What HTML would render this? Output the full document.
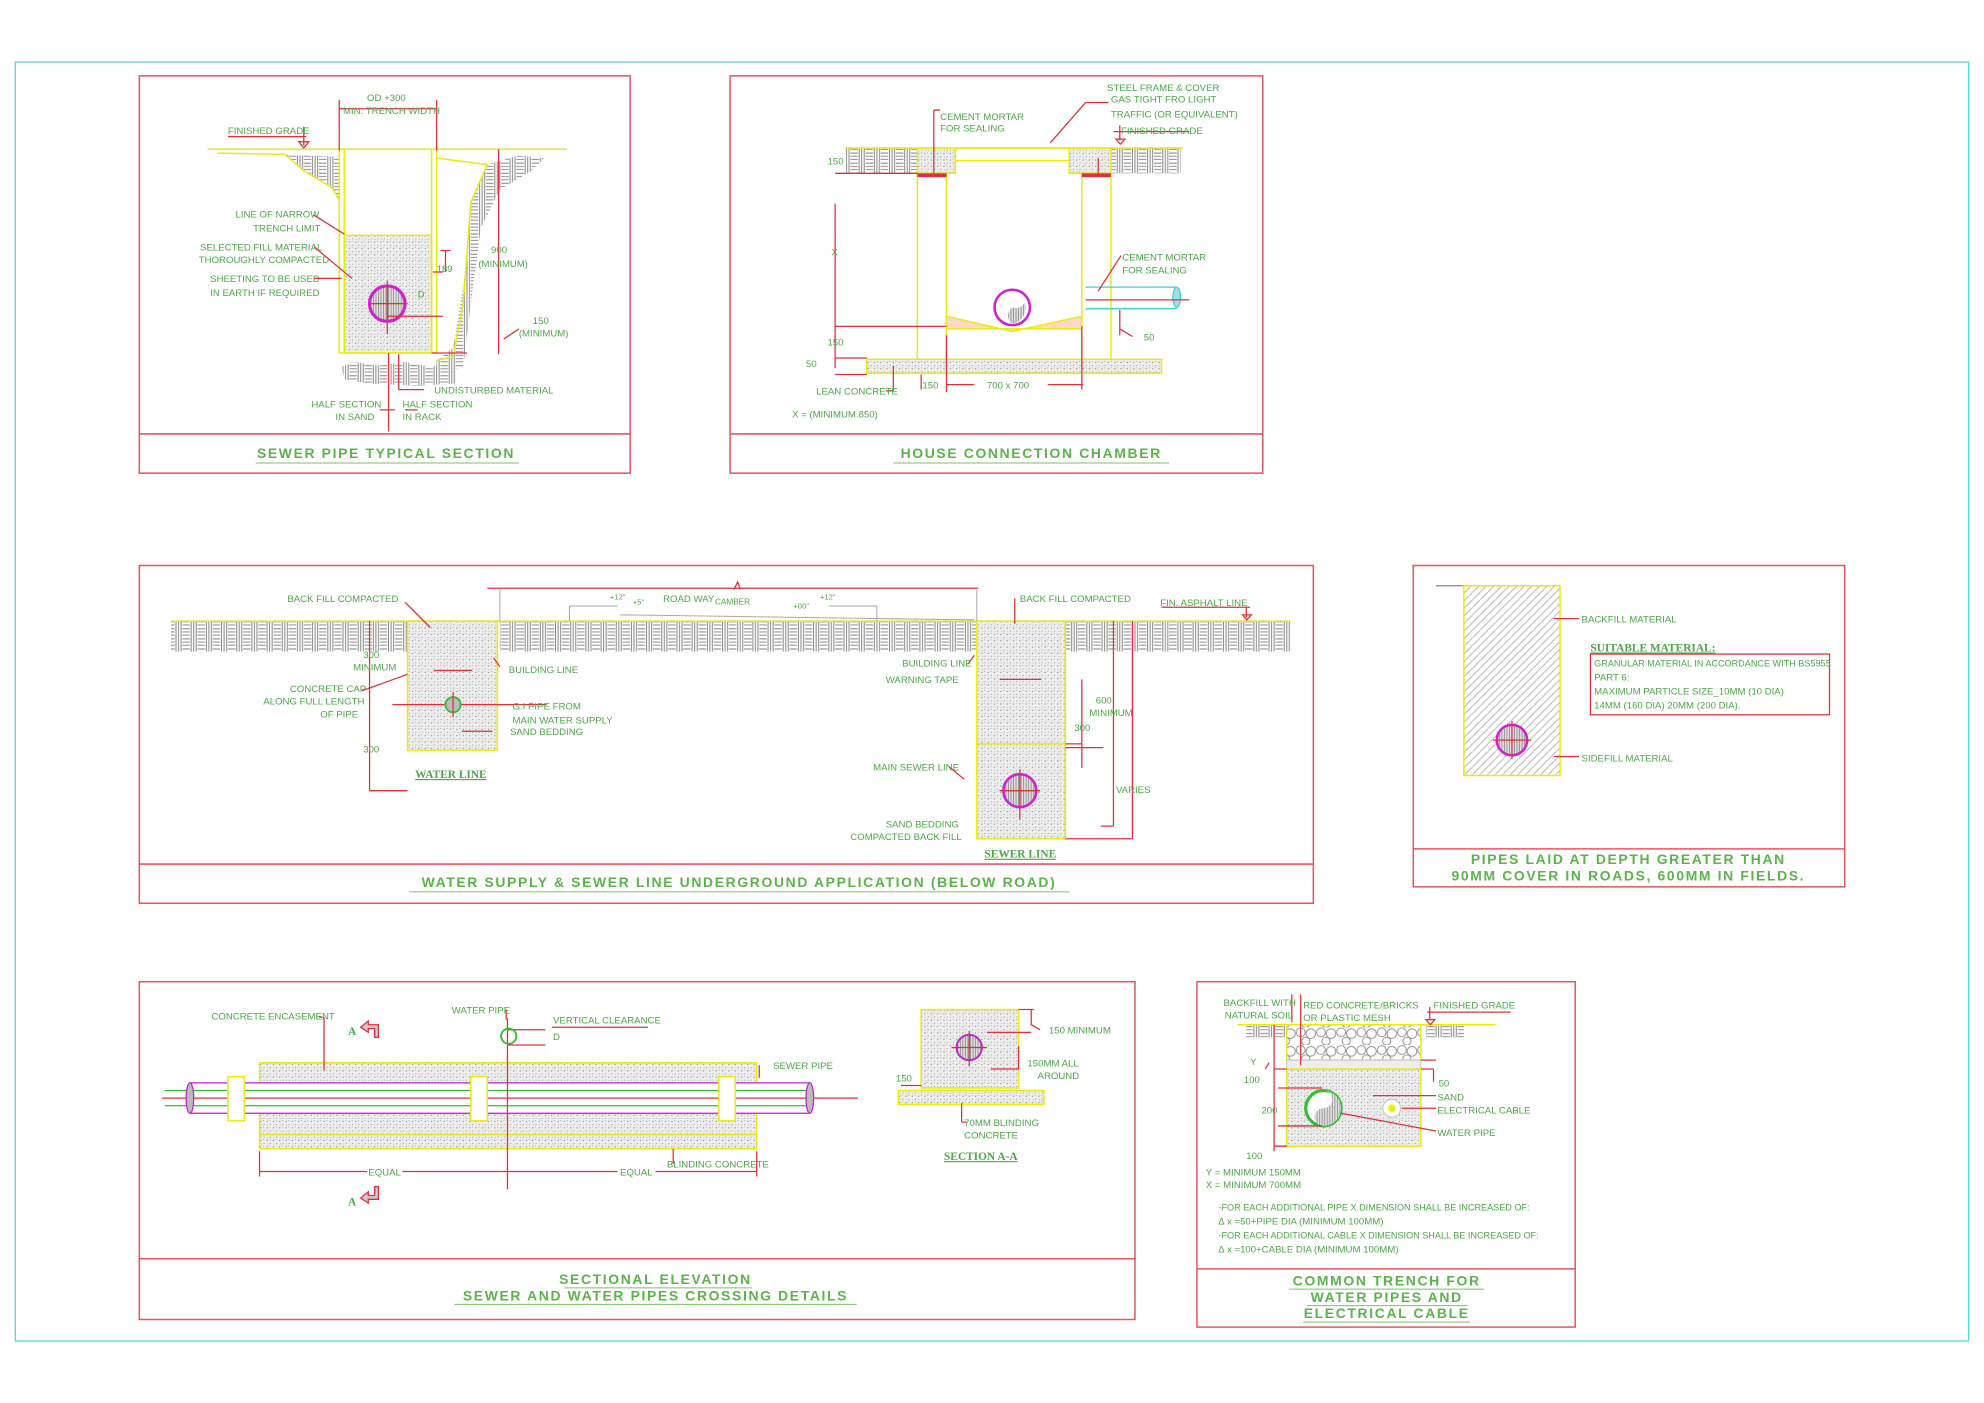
<!DOCTYPE html>
<html><head><meta charset="utf-8"><style>
html,body{margin:0;padding:0;background:#fff;width:1984px;height:1403px;overflow:hidden}
svg{display:block}
text{font-family:"Liberation Sans Narrow","Liberation Sans",sans-serif;fill:#4fa64a;font-size:7.6px}
.t{font-family:"Liberation Sans",sans-serif;font-size:11px;font-weight:bold;letter-spacing:1.3px;fill:#5cb34c;text-anchor:middle}
.s{font-family:"Liberation Serif",serif;font-weight:bold;font-size:9px;fill:#4fa64a;text-decoration:underline}
.r{stroke:#e0303a;fill:none;stroke-width:1}
.y{stroke:#eaea10;fill:none;stroke-width:1.2}
.b{stroke:#e85560;fill:none;stroke-width:1.2}
.u{stroke:#7cc06a;stroke-width:0.8}
</style></head><body>
<svg width="1984" height="1403" viewBox="0 0 1568 1109" xmlns="http://www.w3.org/2000/svg">
<defs>
<pattern id="brk" width="12" height="8" patternUnits="userSpaceOnUse">
<rect width="12" height="8" fill="#fff"/>
<path d="M0 1h6M0 3.5h6M0 6h6M7 0v8M9 0v8M11 0v8" stroke="#8a8a8a" stroke-width="0.8" fill="none"/>
</pattern>
<pattern id="dot" width="5" height="5" patternUnits="userSpaceOnUse">
<rect width="5" height="5" fill="#eeeeee"/>
<circle cx="1" cy="1.5" r="0.5" fill="#888"/><circle cx="3.6" cy="3.8" r="0.45" fill="#999"/><circle cx="3.2" cy="0.8" r="0.35" fill="#777"/><circle cx="1.4" cy="4.2" r="0.35" fill="#999"/>
</pattern>
<pattern id="hat" width="6" height="6" patternUnits="userSpaceOnUse">
<rect width="6" height="6" fill="#fff"/><path d="M0 6L6 0" stroke="#aaa" stroke-width="0.7"/>
</pattern>
<pattern id="pbl" width="16" height="14" patternUnits="userSpaceOnUse">
<rect width="16" height="14" fill="#fff"/>
<circle cx="4" cy="4" r="3.5" fill="none" stroke="#888" stroke-width="0.7"/><circle cx="12" cy="5" r="3.8" fill="none" stroke="#888" stroke-width="0.7"/><circle cx="8" cy="11" r="3.2" fill="none" stroke="#888" stroke-width="0.7"/>
</pattern>
<pattern id="vh" width="2" height="4" patternUnits="userSpaceOnUse"><rect width="2" height="4" fill="#ddd"/><path d="M1 0v4" stroke="#777" stroke-width="0.5"/></pattern>
</defs>

<rect x="12" y="49" width="1544" height="1011" fill="none" stroke="#55d8d8" stroke-width="1"/>

<!-- PANEL 1 -->
<rect x="110" y="60" width="388" height="314" class="b"/>
<line x1="110" y1="343" x2="498" y2="343" class="b"/>
<text class="t" x="305" y="362">SEWER PIPE TYPICAL SECTION</text>
<line x1="202" y1="366" x2="410" y2="366" class="u"/>
<path d="M190 121 L225 122 L240 135 L262 148 L268 158 L268 124 Z" fill="url(#brk)"/>
<path d="M345 285 L358 275 L363 245 L370 200 L372 160 L385 130 L410 123 L430 125 L420 135 L395 150 L380 180 L372 240 L366 290 L345 295 Z" fill="url(#brk)"/>
<path d="M270 290 L280 286 L300 289 L320 286 L340 290 L360 287 L360 303 L330 305 L290 303 L272 300 Z" fill="url(#brk)"/>
<path d="M172 121 L225 122 L240 135 L262 148 L268 158" class="y"/>
<path d="M345 125 L385 130 L372 160 L366 240 L358 282 L345 285" class="y"/>
<line x1="164" y1="118" x2="448" y2="118" class="y"/>
<rect x="272" y="186" width="69" height="93" style="fill:url(#dot)" class="y"/>
<rect x="268" y="118" width="77" height="161" class="y"/>
<line x1="272" y1="118" x2="272" y2="279" class="y"/>
<line x1="341" y1="118" x2="341" y2="279" class="y"/>
<circle cx="306" cy="240" r="14" fill="url(#vh)" stroke="#d020d0" stroke-width="2.5"/>
<path d="M292 240h30M306 222v42M306 250h44M341 279h28M352 198v17M348 198h8M350 215h-8" class="r"/>
<path d="M268 79v40M345 79v40M268 86h77M180 108h62M240 100v15M394 118v162M398 268l12-8M315 280v28M315 308h20M312 324h-12M320 324h10M307 279v62" class="r"/>
<path d="M236 112h8l-4 5z" class="r"/>
<text x="290" y="80">OD +300</text><text x="271" y="90">MIN. TRENCH WIDTH</text>
<text x="180" y="106">FINISHED GRADE</text>
<text x="186" y="172">LINE OF NARROW</text><text x="200" y="183">TRENCH LIMIT</text>
<text x="158" y="198">SELECTED FILL MATERIAL</text><text x="157" y="208">THOROUGHLY COMPACTED</text>
<text x="166" y="223">SHEETING TO BE USED</text><text x="166" y="234">IN EARTH IF REQUIRED</text>
<path d="M248 170l24 15M248 195l30 25M248 220h22" class="r"/>
<text x="330" y="235">D</text><text x="345" y="215">189</text>
<text x="388" y="200">900</text><text x="378" y="211">(MINIMUM)</text>
<text x="421" y="256">150</text><text x="410" y="266">(MINIMUM)</text>
<text x="343" y="311">UNDISTURBED MATERIAL</text>
<text x="246" y="322">HALF SECTION</text><text x="265" y="332">IN SAND</text>
<text x="318" y="322">HALF SECTION</text><text x="318" y="332">IN RACK</text>

<!-- PANEL 2 -->
<rect x="577" y="60" width="421" height="314" class="b"/>
<line x1="577" y1="343" x2="998" y2="343" class="b"/>
<text class="t" x="815" y="362">HOUSE CONNECTION CHAMBER</text>
<line x1="706" y1="366" x2="924" y2="366" class="u"/>
<rect x="668" y="117" width="58" height="20" fill="url(#brk)"/>
<rect x="878" y="117" width="55" height="20" fill="url(#brk)"/>
<path d="M725 117h30v20h-30z M845 117h33v20h-33z" style="fill:url(#dot)" class="y"/>
<path d="M755 117h90v10h-90z" class="y"/>
<line x1="668" y1="117" x2="935" y2="117" class="y"/>
<rect x="725" y="137" width="23" height="147" class="y"/>
<rect x="855" y="137" width="23" height="147" class="y"/>
<rect x="725" y="137" width="23" height="3" fill="#e0303a"/>
<rect x="855" y="137" width="23" height="3" fill="#e0303a"/>
<rect x="685" y="284" width="233" height="11" style="fill:url(#dot)" class="y"/>
<path d="M748 250 L800 262 L855 250 L855 260 L748 260 Z" style="fill:#fbd9c8" class="y"/>
<circle cx="800" cy="243" r="14" fill="none" stroke="#d020d0" stroke-width="2"/>
<path d="M800 256 a8 8 0 0 1 0-13 a8 8 0 0 0 10 -4 a13 13 0 0 1 -10 17z" fill="url(#vh)"/>
<path d="M858 227h72M858 244h72" stroke="#40d0d0" fill="none"/>
<ellipse cx="930" cy="235" rx="3" ry="8" fill="#a0e0e0" stroke="#40d0d0"/>
<path d="M858 237h82" class="r"/>
<path d="M660 137h65M660 161v130M660 258h88M660 283h25M660 296h25M728 296v12M855 258v50M748 265v45M748 304h22M828 304h28M885 245v20M885 260l10 6M830 113l28-32M858 81h18M738 137v-50M738 87h5M868 137v-12M868 230l18-28M706 289v20M700 309h6M880 104h60M885 99v12" class="r"/>
<path d="M882 110h7l-3.5 4z" class="r"/>
<text x="875" y="72">STEEL FRAME &amp; COVER</text><text x="878" y="81">GAS TIGHT FRO LIGHT</text><text x="878" y="93">TRAFFIC (OR EQUIVALENT)</text>
<text x="886" y="106">FINISHED GRADE</text>
<text x="743" y="95">CEMENT MORTAR</text><text x="743" y="104">FOR SEALING</text>
<text x="887" y="206">CEMENT MORTAR</text><text x="887" y="216">FOR SEALING</text>
<text x="904" y="269">50</text>
<text x="654" y="130">150</text><text x="657" y="202">X</text><text x="654" y="273">150</text><text x="637" y="290">50</text>
<text x="645" y="312">LEAN CONCRETE</text><text x="729" y="307">150</text><text x="780" y="307">700 x 700</text>
<text x="626" y="330">X = (MINIMUM.850)</text>

<!-- PANEL 3 -->
<rect x="110" y="447" width="928" height="267" class="b"/>
<line x1="110" y1="683" x2="1038" y2="683" class="b"/>
<text class="t" x="584" y="701">WATER SUPPLY &amp; SEWER LINE UNDERGROUND APPLICATION (BELOW ROAD)</text>
<line x1="323" y1="705" x2="845" y2="705" class="u"/>
<rect x="135" y="491" width="187" height="24" fill="url(#brk)"/>
<rect x="395" y="491" width="377" height="24" fill="url(#brk)"/>
<rect x="842" y="491" width="178" height="24" fill="url(#brk)"/>
<line x1="135" y1="491" x2="1020" y2="491" class="y"/>
<rect x="322" y="491" width="71" height="102" style="fill:url(#dot)" class="y"/>
<rect x="772" y="491" width="70" height="172" style="fill:url(#dot)" class="y"/>
<line x1="772" y1="588" x2="842" y2="588" class="y"/>
<path d="M395 466v25M772 466v25M450 491v-12h38M655 479h38v12M490 486l280 4" stroke="#aaa" fill="none" stroke-width="0.8"/>
<path d="M385 465h388M580 466l3-6 2 6" class="r"/>
<path d="M343 530h30M790 537h33M292 491v134M292 625h30M310 557h70M380 557h52M365 578h24M395 527l-5-7M320 476l20 20M322 533l-36 13M855 537v70M855 588h-13M880 491v162M895 491v172M880 653h-10M895 663h-53M750 606l12 10M842 591h30M770 518l-5 7M802 473v20" class="r"/>
<circle cx="358" cy="557" r="6" fill="#bbb" stroke="#30c030" stroke-width="1.5"/>
<line x1="358" y1="547" x2="358" y2="567" class="r"/>
<circle cx="806" cy="625" r="13" fill="url(#vh)" stroke="#d020d0" stroke-width="2"/>
<path d="M790 625h32M806 608v40" class="r"/>
<path d="M918 480h70M985 480v8M982 486h7l-3.5 4z" class="r"/>
<text x="227" y="476">BACK FILL COMPACTED</text><text x="806" y="476">BACK FILL COMPACTED</text>
<text x="917" y="479">FIN. ASPHALT LINE</text>
<text x="482" y="474" style="font-size:6px">+12"</text><text x="500" y="478" style="font-size:6px">+5"</text><text x="524" y="476">ROAD WAY</text><text x="565" y="478" style="font-size:6.5px">CAMBER</text><text x="627" y="481" style="font-size:6px">+00"</text><text x="648" y="474" style="font-size:6px">+12"</text>
<text x="287" y="520">300</text><text x="279" y="530">MINIMUM</text>
<text x="229" y="547">CONCRETE CAP</text><text x="208" y="557">ALONG FULL LENGTH</text><text x="253" y="567">OF PIPE</text>
<text x="287" y="595">300</text>
<text x="402" y="532">BUILDING LINE</text>
<text x="405" y="561">G.I PIPE FROM</text><text x="405" y="572">MAIN WATER SUPPLY</text><text x="403" y="581">SAND BEDDING</text>
<text class="s" x="328" y="615">WATER LINE</text>
<text x="713" y="527">BUILDING LINE</text><text x="700" y="540">WARNING TAPE</text>
<text x="866" y="556">600</text><text x="861" y="566">MINIMUM</text><text x="849" y="578">300</text>
<text x="690" y="609">MAIN SEWER LINE</text><text x="882" y="627">VARIES</text>
<text x="700" y="654">SAND BEDDING</text><text x="672" y="664">COMPACTED BACK FILL</text>
<text class="s" x="778" y="678">SEWER LINE</text>

<!-- PANEL 4 -->
<rect x="1117" y="447" width="341" height="254" class="b"/>
<line x1="1117" y1="671" x2="1458" y2="671" class="b"/>
<text class="t" x="1287" y="683">PIPES LAID AT DEPTH GREATER THAN</text>
<text class="t" x="1287" y="696">90MM COVER IN ROADS, 600MM IN FIELDS.</text>
<line x1="1135" y1="463" x2="1157" y2="463" stroke="#888"/>
<rect x="1157" y="463" width="76" height="150" style="fill:url(#hat)" class="y"/>
<circle cx="1195" cy="585" r="12" fill="url(#vh)" stroke="#d020d0" stroke-width="2"/>
<path d="M1180 585h30M1195 570v30M1228 489h20M1228 598h20" class="r"/>
<rect x="1257" y="517" width="189" height="48" class="r"/>
<text x="1250" y="492">BACKFILL MATERIAL</text>
<text class="s" x="1257" y="515">SUITABLE MATERIAL:</text>
<text x="1260" y="527" style="font-size:7.2px">GRANULAR MATERIAL IN ACCORDANCE WITH BS5955</text>
<text x="1260" y="538">PART 6:</text>
<text x="1260" y="549">MAXIMUM PARTICLE SIZE_10MM (10 DIA)</text>
<text x="1260" y="560">14MM (160 DIA) 20MM (200 DIA).</text>
<text x="1250" y="602">SIDEFILL MATERIAL</text>

<!-- PANEL 5 -->
<rect x="110" y="776" width="787" height="267" class="b"/>
<line x1="110" y1="995" x2="897" y2="995" class="b"/>
<text class="t" x="518" y="1015">SECTIONAL ELEVATION</text>
<text class="t" x="518" y="1028">SEWER AND WATER PIPES CROSSING DETAILS</text>
<line x1="446" y1="1018" x2="594" y2="1018" class="u"/><line x1="359" y1="1031" x2="677" y2="1031" class="u"/>
<rect x="205" y="840" width="393" height="68" style="fill:url(#dot)" class="y"/>
<line x1="205" y1="897" x2="598" y2="897" class="y"/>
<rect x="150" y="856" width="490" height="24" fill="#fff"/>
<path d="M150 856h490M150 880h490" stroke="#c020d0" fill="none"/>
<path d="M130 862h512M130 874h512" stroke="#30c030" fill="none"/>
<line x1="128" y1="868" x2="678" y2="868" class="r"/>
<ellipse cx="150" cy="868" rx="3" ry="12" fill="#bbb" stroke="#c020d0"/><ellipse cx="640" cy="868" rx="3" ry="12" fill="#bbb" stroke="#c020d0"/>
<rect x="180" y="851" width="13" height="35" style="fill:#fff" class="y"/><rect x="372" y="851" width="13" height="35" style="fill:#fff" class="y"/><rect x="568" y="851" width="13" height="35" style="fill:#fff" class="y"/>
<path d="M401 805v135M401 814h30M401 826h30M436 812h76M205 910v20M598 910v20M205 926h85M318 926h85M403 926h85M518 926h80M256 804v42M252 804h3M400 798v8M532 908v12M600 842v10" class="r"/>
<circle cx="402" cy="819" r="6" fill="none" stroke="#30c030" stroke-width="1.5"/>
<path d="M285 812l6-5v3h8v10h-3v-7h-5v3z" fill="#ccc" stroke="#e0303a"/>
<path d="M285 947l6-5v3h5v-7h3v10h-8v3z" fill="#ccc" stroke="#e0303a"/>
<text x="275" y="818" class="s" style="text-decoration:none">A</text><text x="275" y="953" class="s" style="text-decoration:none">A</text>
<text x="167" y="806">CONCRETE ENCASEMENT</text><text x="357" y="801">WATER PIPE</text><text x="437" y="809">VERTICAL CLEARANCE</text><text x="437" y="822">D</text>
<text x="611" y="845">SEWER PIPE</text><text x="527" y="923">BLINDING CONCRETE</text>
<text x="291" y="929">EQUAL</text><text x="490" y="929">EQUAL</text>
<rect x="728" y="798" width="77" height="62" style="fill:url(#dot)" class="y"/>
<rect x="710" y="862" width="115" height="11" style="fill:url(#dot)" class="y"/>
<circle cx="766" cy="828" r="10" fill="url(#vh)" stroke="#c020d0" stroke-width="1.5"/>
<path d="M752 828h28M766 815v28M805 798h12M815 798v12l7 4M780 816h35M783 845h22M805 845v-18M712 858h16M760 872v15M760 887h4" class="r"/>
<text x="829" y="817">150 MINIMUM</text><text x="812" y="843">150MM ALL</text><text x="820" y="853">AROUND</text>
<text x="708" y="855">150</text><text x="762" y="890">70MM BLINDING</text><text x="762" y="900">CONCRETE</text>
<text class="s" x="746" y="917">SECTION A-A</text>

<!-- PANEL 6 -->
<rect x="946" y="776" width="299" height="273" class="b"/>
<line x1="946" y1="1003" x2="1245" y2="1003" class="b"/>
<text class="t" x="1096" y="1016">COMMON TRENCH FOR</text><text class="t" x="1096" y="1029">WATER PIPES AND</text><text class="t" x="1096" y="1042">ELECTRICAL CABLE</text>
<line x1="1019" y1="1019" x2="1173" y2="1019" class="u"/><line x1="1033" y1="1032" x2="1160" y2="1032" class="u"/><line x1="1030" y1="1045" x2="1162" y2="1045" class="u"/>
<rect x="985" y="810" width="32" height="10" fill="url(#brk)"/><rect x="1127" y="810" width="30" height="10" fill="url(#brk)"/>
<line x1="978" y1="810" x2="1182" y2="810" class="y"/>
<rect x="1017" y="810" width="106" height="28" style="fill:url(#pbl)" class="y"/>
<rect x="1017" y="838" width="106" height="7" fill="#eee" stroke="#bbb" stroke-width="0.6"/>
<rect x="1017" y="845" width="106" height="61" style="fill:url(#dot)" class="y"/>
<circle cx="1046" cy="876" r="14" fill="#fff" stroke="#30c030" stroke-width="2.5"/>
<path d="M1046 890a7 7 0 0 1 0-14 a7 7 0 0 0 0-14 a14 14 0 0 1 0 28z" fill="url(#vh)"/>
<circle cx="1100" cy="876" r="7" fill="#fff" stroke="#ccc"/><circle cx="1100" cy="876" r="3" fill="#f0f000"/>
<path d="M1007 810v100M1007 845h10M1007 906h10M1010 860h35M1010 890h35M1060 880l75 14M1108 876h27M1085 866h50M1123 845h10M1133 845v10M1123 838h12M1003 840l-3 5M1021 786v22M1028 786v56M1128 800h66M1130 796v10" class="r"/>
<path d="M1127 806h7l-3.5 4z" class="r"/>
<text x="967" y="795">BACKFILL WITH</text><text x="968" y="805">NATURAL SOIL</text>
<text x="1030" y="797">RED CONCRETE/BRICKS</text><text x="1030" y="807">OR PLASTIC MESH</text>
<text x="1133" y="797">FINISHED GRADE</text>
<text x="988" y="842">Y</text><text x="983" y="856">100</text><text x="997" y="880">200</text><text x="985" y="916">100</text>
<text x="1137" y="859">50</text><text x="1136" y="870">SAND</text><text x="1136" y="880">ELECTRICAL CABLE</text><text x="1136" y="898">WATER PIPE</text>
<text x="953" y="929">Y = MINIMUM 150MM</text><text x="953" y="939">X = MINIMUM 700MM</text>
<text x="963" y="957" style="font-size:7.2px">-FOR EACH ADDITIONAL PIPE X DIMENSION SHALL BE INCREASED OF:</text>
<text x="963" y="968">∆ x =50+PIPE DIA (MINIMUM 100MM)</text>
<text x="963" y="979" style="font-size:7.2px">-FOR EACH ADDITIONAL CABLE X DIMENSION SHALL BE INCREASED OF:</text>
<text x="963" y="990">∆ x =100+CABLE DIA (MINIMUM 100MM)</text>
</svg>
</body></html>
